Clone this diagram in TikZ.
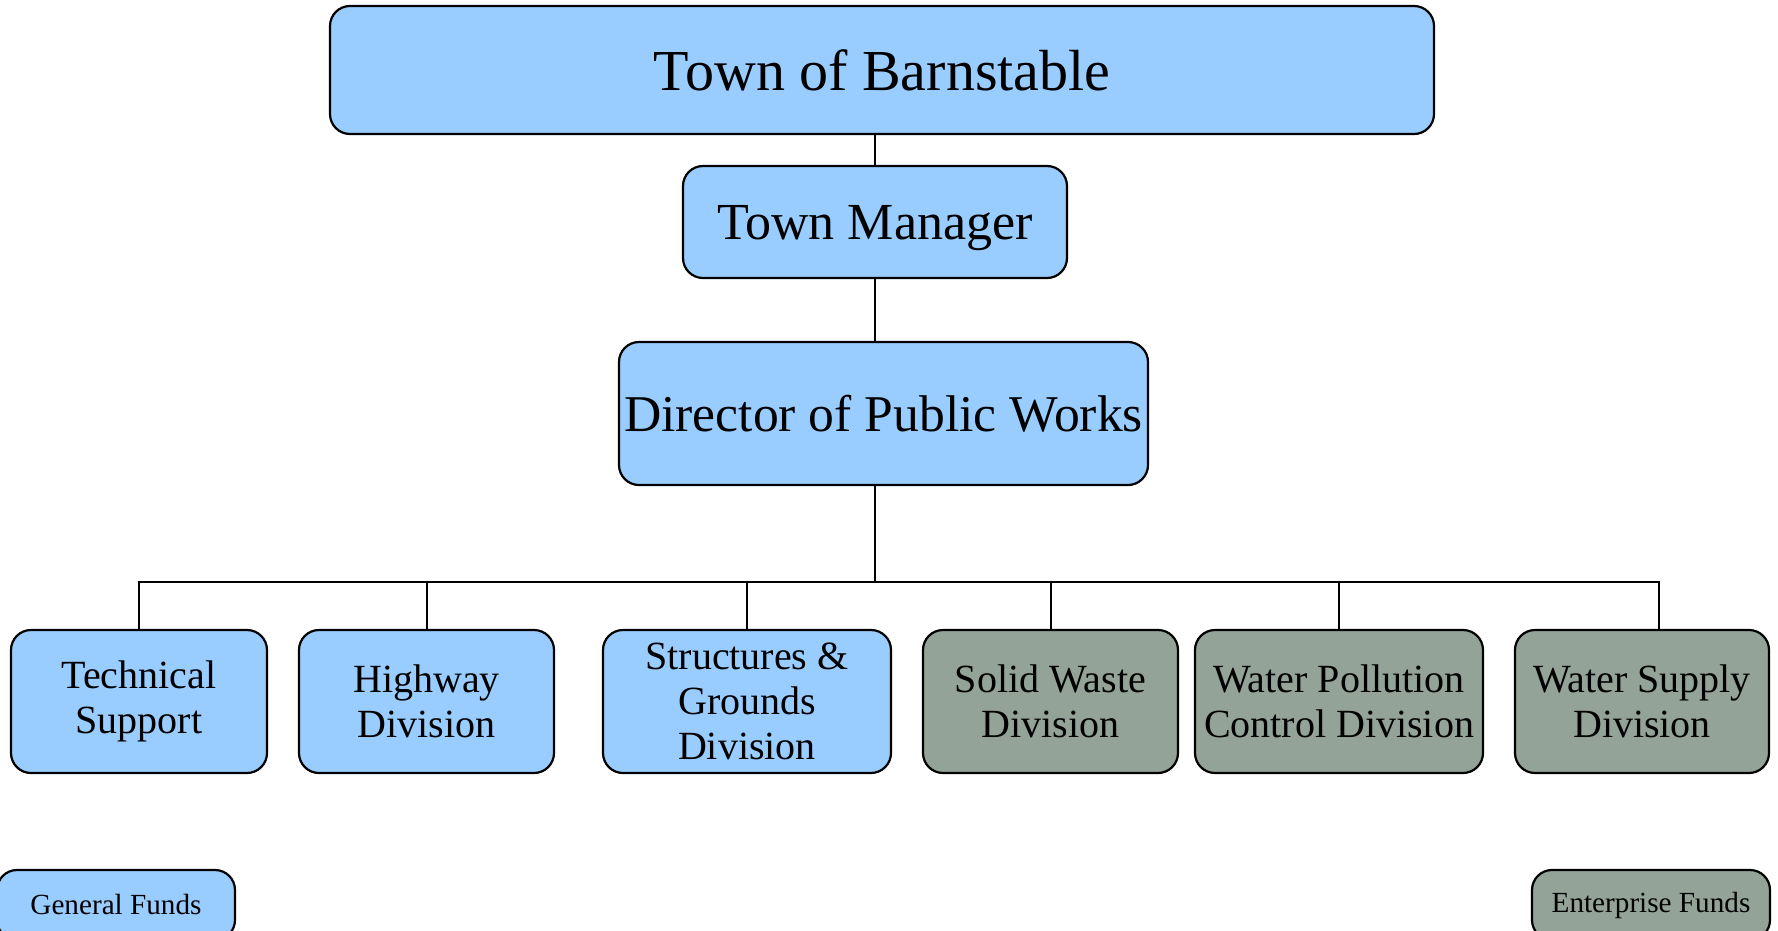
\documentclass[tikz,border=0pt]{standalone}
\usepackage{fontspec}
\setmainfont{Liberation Serif}
\usepackage{tikz}
\usetikzlibrary{positioning}
\definecolor{genblue}{HTML}{99CCFF}
\definecolor{entgrey}{HTML}{93A397}

\begin{document}
\begin{tikzpicture}[x=0.5pt,y=-0.5pt,
  box/.style={draw=black,line width=1.1pt,rounded corners=10pt,inner sep=0pt,align=center},
  gen/.style={box,fill=genblue},
  ent/.style={box,fill=entgrey},
  unit/.style={minimum height=71.5pt,font=\fontsize{20}{22.5}\selectfont},
  link/.style={draw=black,line width=1pt}]
\useasboundingbox (0,0) rectangle (1778,931);
\node [gen,minimum width=552pt,minimum height=64pt,font=\fontsize{29}{32}\selectfont] (town) at (882,70) {Town of Barnstable};
\node [gen,minimum width=192pt,minimum height=56pt,text depth=0pt,font=\fontsize{26}{30}\selectfont] (tm) at (875,222) {Town Manager};
\node [gen,minimum width=264.5pt,minimum height=71.5pt,font=\fontsize{25.8}{30}\selectfont] (dpw) at (883.5,413.5) {Director of Public Works};
\node [gen,unit,minimum width=128pt] (tech) at (139,701.5) {Technical\\Support};
\node [gen,unit,minimum width=127.5pt] (hwy) at (426.5,701.5) {Highway\\Division};
\node [gen,unit,minimum width=144pt] (sgd) at (747,701.5) {Structures \&\\Grounds\\Division};
\node [ent,unit,minimum width=127.5pt] (swd) at (1050.5,701.5) {Solid Waste\\Division};
\node [ent,unit,minimum width=144pt] (wpc) at (1339,701.5) {Water Pollution\\Control Division};
\node [ent,unit,minimum width=127pt] (wsd) at (1642,701.5) {Water Supply\\Division};
\node [gen,minimum width=119pt,minimum height=35pt,font=\fontsize{14.6}{17}\selectfont] (genf) at (116,905) {General Funds};
\node [ent,minimum width=119pt,minimum height=35pt,font=\fontsize{14.6}{17}\selectfont] (entf) at (1651,905) {Enterprise Funds};
\coordinate (bus) at (875,582);
\draw [link] (tm.north) -- (tm.north |- town.south);
\draw [link] (tm.south) -- (tm.south |- dpw.north);
\draw [link] (tm.south |- dpw.south) -- (bus);
\draw [link] (tech.north) |- (bus);
\draw [link] (hwy.north) |- (bus);
\draw [link] (sgd.north) |- (bus);
\draw [link] (swd.north) |- (bus);
\draw [link] (wpc.north) |- (bus);
\draw [link] ([xshift=8.5pt]wsd.north) |- (bus);
\end{tikzpicture}
\end{document}
